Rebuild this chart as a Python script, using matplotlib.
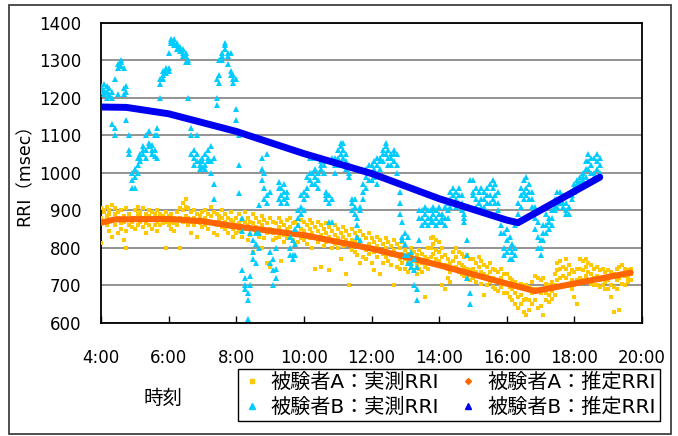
import numpy as np
import matplotlib
matplotlib.use('Agg')
import matplotlib.pyplot as plt
from matplotlib.lines import Line2D
from matplotlib.patches import Rectangle

plt.rcParams['font.family'] = ['DejaVu Sans', 'Noto Sans CJK JP']

# measured RRI, sampled every 5 minutes from 4:00, three readings per slot
sample_start = 4.0
sample_step = 5 / 60

a_rri = [
    905,880,812, 895,870,900, 910,885,860, 900,890,845, 915,875,830, 890,860,905, 880,840,895, 900,865,850, 885,820,870, 905,845,800, 890,860,875, 880,855,870,  # 4h
    900,880,850, 910,890,860, 895,870,885, 905,880,855, 890,865,840, 885,860,900, 895,875,850, 880,860,890, 900,870,845, 890,875,860, 885,865,880, 895,870,800,  # 5h
    885,860,870, 890,870,850, 880,865,845, 895,875,860, 905,880,800, 920,900,870, 930,910,885, 905,880,860, 895,870,840, 900,880,860, 890,870,830, 885,865,880,  # 6h
    895,875,855, 900,880,860, 890,870,850, 910,885,865, 895,870,840, 890,860,835, 885,865,875, 900,880,855, 890,870,850, 880,860,840, 895,875,855, 870,850,830,  # 7h
    880,860,840, 890,865,845, 875,855,830, 895,870,850, 880,860,820, 870,850,835, 890,865,790, 880,855,840, 870,850,830, 885,860,800, 875,845,825, 865,840,760,  # 8h
    880,850,750, 870,840,820, 865,845,825, 880,855,830, 870,840,765, 860,835,815, 875,850,825, 880,855,830, 865,840,820, 870,845,810, 860,835,815, 875,850,825,  # 9h
    870,845,820, 860,835,810, 875,850,825, 865,840,800, 855,830,745, 870,845,815, 860,835,750, 850,825,805, 865,840,815, 855,830,740, 845,820,800, 860,835,810,  # 10h
    850,825,800, 840,815,770, 855,830,805, 845,820,730, 835,810,700, 850,820,795, 840,815,790, 830,805,780, 845,815,760, 835,800,775, 825,795,770, 840,810,785,  # 11h
    825,800,760, 815,790,740, 830,805,775, 820,795,730, 810,785,760, 825,800,775, 815,790,765, 805,780,755, 820,795,700, 810,780,750, 800,770,745, 815,785,760,  # 12h
    795,770,745, 785,760,735, 800,775,750, 790,765,740, 780,755,730, 795,770,745, 785,760,735, 775,750,670, 800,770,745, 825,800,775, 830,810,785, 820,795,770,  # 13h
    815,790,765, 800,775,700, 780,755,690, 770,745,720, 760,735,710, 790,765,740, 800,775,750, 790,760,735, 785,755,730, 775,750,725, 780,745,720, 770,740,715,  # 14h
    770,745,720, 760,735,710, 775,750,725, 765,735,705, 755,730,675, 750,725,700, 760,735,710, 745,720,695, 740,715,690, 735,710,685, 745,720,695, 730,705,680,  # 15h
    730,705,680, 720,695,670, 715,690,660, 710,680,650, 700,670,640, 705,675,650, 690,660,630, 700,665,620, 695,660,635, 710,680,650, 725,690,660, 720,685,640,  # 16h
    715,680,645, 720,690,620, 705,680,660, 700,675,655, 710,685,665, 730,700,675, 760,740,715, 765,745,720, 750,725,700, 770,745,720, 755,730,705, 740,715,690,  # 17h
    735,700,670, 745,715,650, 770,745,720, 765,740,715, 770,750,725, 760,735,710, 755,730,705, 745,720,700, 750,725,700, 740,715,695, 745,720,700, 735,710,690,  # 18h
    740,715,690, 735,700,670, 730,695,630, 745,715,690, 750,720,635, 755,730,705, 745,725,700, 740,720,710, 745,730,715,  # 19h
]

b_rri = [
    1225,1215,1230, 1220,1210,1235, 1230,1215,1200, 1225,1210,1205, 1215,1130,1200, 1100,1120,1250, 1290,1280,1210, 1295,1285,1300, 1280,1225,1210, 1230,1215,1140, 1100,1060,1050, 1000,980,960,  # 4h
    990,960,1010, 1000,1020,1040, 1030,1050,1040, 1060,1050,1070, 1100,1060,1040, 1110,1080,1070, 1060,1075,1050, 1045,1060,1100, 1040,1120,1100, 1200,1235,1250, 1250,1260,1270, 1265,1275,1280,  # 5h
    1270,1320,1280, 1345,1350,1355, 1355,1340,1345, 1340,1330,1345, 1335,1325,1330, 1320,1330,1310, 1310,1320,1295, 1300,1200,1295, 1120,1100,1050, 1060,1040,1020, 1100,1050,1030, 1020,1010,1030,  # 6h
    1030,1040,1015, 1050,1020,1010, 1040,1060,1030, 1030,1070,1000, 970,930,1040, 1200,1250,1180, 1260,1240,1300, 1310,1300,1320, 1340,1330,1345, 1320,1310,1290, 1270,1260,1320, 1260,1250,1240,  # 7h
    1250,1170,1140, 1100,1020,945, 880,845,740, 720,700,690, 680,660,610, 725,700,840, 820,790,770, 810,760,840, 840,800,915, 1040,1010,980, 1000,960,930, 1050,940,920,  # 8h
    790,760,950, 770,740,700, 800,745,720, 960,930,975, 960,940,920, 970,950,930, 950,920,935, 830,800,780, 820,780,770, 850,810,780, 900,880,860, 940,910,890,  # 9h
    930,900,950, 960,940,990, 1000,980,1040, 1000,1040,970, 990,970,1010, 1000,980,960, 1020,1030,1010, 1030,1000,1020, 950,940,930, 940,920,870, 930,870,1040, 1040,1020,1000,  # 10h
    1060,1040,1020, 1070,1080,1050, 1080,1060,1040, 1050,1030,1010, 1000,990,1020, 920,900,930, 910,890,930, 880,860,830, 820,900,910, 950,970,930, 990,1010,960, 1000,1020,980,  # 11h
    1020,1000,980, 1030,1010,990, 1020,1040,970, 1040,1030,1010, 1050,1060,1030, 1070,1080,1050, 1060,1040,1020, 1050,1040,1020, 1060,1030,1050, 1050,1020,1000, 950,920,890, 870,830,820,  # 12h
    840,810,780, 830,780,760, 790,760,750, 770,740,700, 690,660,750, 820,880,900, 900,880,860, 890,910,870, 880,900,860, 900,880,870, 910,890,870, 900,880,860,  # 13h
    910,890,870, 890,870,880, 910,880,860, 900,920,880, 950,930,910, 960,940,920, 930,950,910, 960,940,920, 940,920,900, 880,890,870, 820,780,720, 680,650,980,  # 14h
    980,950,940, 960,930,910, 950,920,900, 930,910,960, 950,930,910, 960,940,920, 970,940,920, 980,960,930, 970,940,920, 950,920,900, 880,860,840, 840,800,780,  # 15h
    850,820,790, 830,800,770, 810,790,770, 860,800,780, 920,890,870, 960,940,910, 980,950,930, 990,960,940, 970,950,930, 950,930,910, 910,880,850, 870,830,800,  # 16h
    820,800,780, 860,840,820, 890,860,840, 880,850,870, 900,880,860, 930,910,900, 950,930,910, 950,930,920, 940,920,910, 920,900,890, 910,890,940, 950,940,930,  # 17h
    970,960,950, 980,970,960, 990,975,965, 990,980,1000, 1010,990,1030, 1050,1030,1010, 1040,1020,1000, 1000,990,1040, 1050,1030,1010, 1040,1020,1000,  # 18h
]

# estimated RRI (piecewise trend)
a_est_time = ["4:00", "4:25", "6:00", "7:00", "8:00", "10:00", "12:00", "14:00", "16:00", "16:50", "18:00", "19:40"]
a_est_rri = [867, 876, 877, 871, 857, 834, 798, 754, 705, 685, 705, 734]
b_est_time = ["4:00", "4:45", "6:00", "8:00", "10:00", "12:00", "14:00", "16:00", "16:20", "18:45"]
b_est_rri = [1175, 1174, 1157, 1110, 1051, 998, 931, 874, 867, 988]

x_ticks = ["4:00", "6:00", "8:00", "10:00", "12:00", "14:00", "16:00", "18:00", "20:00"]


def to_hour(s):
    h, m = s.split(':')
    return int(h) + int(m) / 60


def slot_times(values):
    arr = np.array(values).reshape(-1, 3)
    t = sample_start + np.arange(len(arr)) * sample_step
    return np.repeat(t, 3), arr.ravel()


a_t, a_v = slot_times(a_rri)
b_t, b_v = slot_times(b_rri)

fig = plt.figure(figsize=(6.78, 4.36), dpi=100)
ax = fig.add_axes([101 / 678, 1 - 323 / 436, 541 / 678, 300.5 / 436])

ax.plot(a_t, a_v, 's', color='#FFC800', markersize=3.0, markeredgewidth=0, zorder=3)
ax.plot([to_hour(s) for s in a_est_time], a_est_rri, '-', color='#FF6600', lw=4.4,
        solid_capstyle='round', zorder=4)
ax.plot(b_t, b_v, '^', color='#00CCFF', markersize=4.8, markeredgewidth=0, zorder=5)
ax.plot([to_hour(s) for s in b_est_time], b_est_rri, '-', color='#0000F0', lw=5,
        solid_capstyle='round', zorder=6)

ax.set_xlim(4, 20)
ax.set_ylim(600, 1400)
ax.set_xticks([to_hour(s) for s in x_ticks])
ax.set_xticklabels(x_ticks)
ax.set_yticks(range(600, 1401, 100))
ax.tick_params(axis='both', direction='in', labelsize=12, length=5, width=1)
ax.tick_params(axis='x', pad=19)
ax.tick_params(axis='y', pad=14, length=0)
ax.grid(axis='y', color='#808080', lw=1.2)
ax.set_axisbelow(True)
for sp in ax.spines.values():
    sp.set_linewidth(1.3)
    sp.set_color('black')

fig.text(25 / 678, 1 - 171 / 436, 'RRI（msec）', rotation=90, ha='center', va='center', fontsize=12.5)
fig.text(163 / 678, 1 - 398 / 436, '時刻', ha='center', va='center', fontsize=14)

handles = [
    Line2D([], [], ls='', marker='s', color='#FFC800', markersize=3),
    Line2D([], [], ls='', marker='^', color='#00CCFF', markersize=4.5),
    Line2D([], [], ls='', marker='D', color='#FF6600', markersize=3),
    Line2D([], [], ls='', marker='^', color='#0000F0', markersize=4),
]
labels = ['被験者A：実測RRI', '被験者B：実測RRI', '被験者A：推定RRI', '被験者B：推定RRI']
leg = fig.legend(handles, labels, ncol=2, loc='upper right', bbox_to_anchor=(660 / 678, 1 - 369 / 436),
                 fontsize=14.5, frameon=True, fancybox=False, edgecolor='black', framealpha=1,
                 handlelength=0.9, handletextpad=0.5, columnspacing=1.0, labelspacing=0.3,
                 borderpad=0.2, borderaxespad=0)
leg.get_frame().set_linewidth(1.0)

fig.patches.append(Rectangle((9 / 678, 1 - 434 / 436), 662 / 678, 429 / 436, transform=fig.transFigure,
                             fill=False, ec='#404040', lw=1.3))

fig.savefig('out.png', dpi=100)
